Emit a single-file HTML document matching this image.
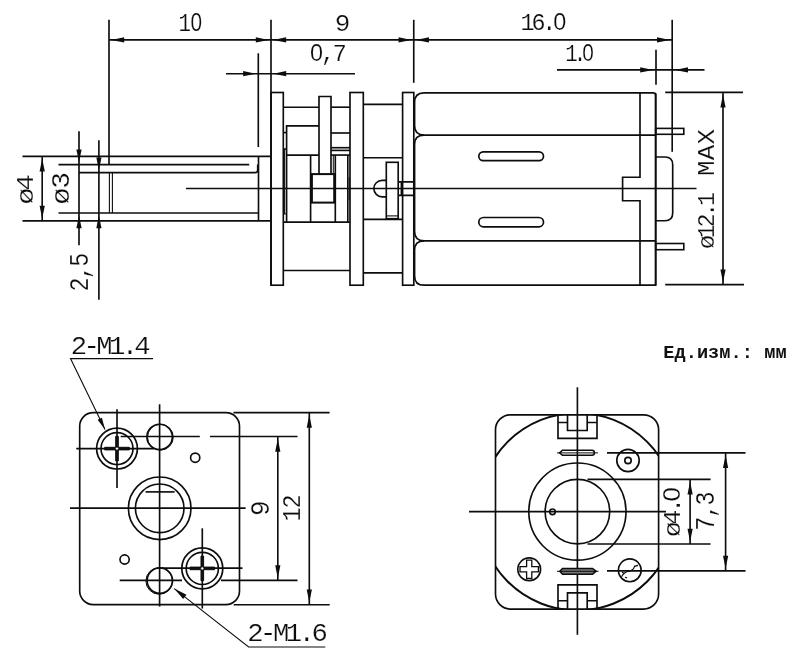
<!DOCTYPE html>
<html lang="ru"><head><meta charset="utf-8"><title>Чертёж мотор-редуктора</title>
<style>
html,body{margin:0;padding:0;background:#fff;}
body{width:800px;height:658px;overflow:hidden;}
svg{display:block;}
</style></head>
<body>
<svg width="800" height="658" viewBox="0 0 800 658">
<rect width="800" height="658" fill="#fff"/>
<g stroke="#0d0d0d" stroke-width="1.65" fill="none" stroke-linecap="butt" transform="translate(0,0.3)">
<line x1="109" y1="19.5" x2="109" y2="164.4"/>
<line x1="271" y1="19.5" x2="271" y2="285"/>
<line x1="413.75" y1="19.5" x2="413.75" y2="82.5"/>
<line x1="672.2" y1="19.5" x2="672.2" y2="151.5"/>
<line x1="109" y1="39.6" x2="672.2" y2="39.6"/>
<polygon points="111.20,39.60 124.20,37.00 124.20,42.20" fill="#0d0d0d" stroke="none"/>
<polygon points="268.80,39.60 255.80,42.20 255.80,37.00" fill="#0d0d0d" stroke="none"/>
<polygon points="273.20,39.60 286.20,37.00 286.20,42.20" fill="#0d0d0d" stroke="none"/>
<polygon points="411.55,39.60 398.55,42.20 398.55,37.00" fill="#0d0d0d" stroke="none"/>
<polygon points="415.95,39.60 428.95,37.00 428.95,42.20" fill="#0d0d0d" stroke="none"/>
<polygon points="670.00,39.60 657.00,42.20 657.00,37.00" fill="#0d0d0d" stroke="none"/>
<line x1="258.3" y1="53" x2="258.3" y2="146.75"/>
<line x1="226" y1="73.4" x2="355" y2="73.4"/>
<polygon points="256.10,73.40 243.10,76.00 243.10,70.80" fill="#0d0d0d" stroke="none"/>
<polygon points="273.20,73.40 286.20,70.80 286.20,76.00" fill="#0d0d0d" stroke="none"/>
<line x1="656" y1="49.4" x2="656" y2="84.4"/>
<line x1="557" y1="69.6" x2="704.5" y2="69.6"/>
<polygon points="653.20,69.60 640.20,72.20 640.20,67.00" fill="#0d0d0d" stroke="none"/>
<polygon points="675.00,69.60 688.00,67.00 688.00,72.20" fill="#0d0d0d" stroke="none"/>
<line x1="22.5" y1="156.1" x2="271" y2="156.1"/>
<line x1="22.5" y1="220.6" x2="271" y2="220.6"/>
<line x1="58.5" y1="164.3" x2="249.2" y2="164.3"/>
<path d="M79,172.3 H255 Q257.7,172.3 257.7,169.6 V164.3" fill="none"/>
<line x1="58.5" y1="212.7" x2="258.5" y2="212.7"/>
<line x1="258.5" y1="156.1" x2="258.5" y2="220.6"/>
<line x1="79" y1="131" x2="79" y2="245"/>
<polygon points="79.00,162.10 76.40,149.10 81.60,149.10" fill="#0d0d0d" stroke="none"/>
<polygon points="79.00,214.90 81.60,227.90 76.40,227.90" fill="#0d0d0d" stroke="none"/>
<line x1="98.9" y1="140" x2="98.9" y2="299.4"/>
<polygon points="98.90,170.10 96.30,157.10 101.50,157.10" fill="#0d0d0d" stroke="none"/>
<polygon points="98.90,214.90 101.50,227.90 96.30,227.90" fill="#0d0d0d" stroke="none"/>
<line x1="109.4" y1="172.3" x2="109.4" y2="212.7" stroke-width="1.1"/>
<line x1="112.4" y1="172.3" x2="112.4" y2="212.7" stroke-width="1.1"/>
<line x1="42.2" y1="156.1" x2="42.2" y2="220.6"/>
<polygon points="42.20,158.30 44.80,171.30 39.60,171.30" fill="#0d0d0d" stroke="none"/>
<polygon points="42.20,218.40 39.60,205.40 44.80,205.40" fill="#0d0d0d" stroke="none"/>
<line x1="186" y1="188.2" x2="696.5" y2="188.2"/>
<rect x="271" y="92.2" width="12.3" height="192.7" fill="none"/>
<rect x="350" y="92.2" width="13.3" height="192.7" fill="none"/>
<rect x="402.6" y="92.2" width="11.2" height="192.7" fill="none"/>
<path d="M319,173.75 V96.2 H331 V173.75" fill="none"/>
<line x1="283.3" y1="106.9" x2="319" y2="106.9"/>
<line x1="331" y1="106.9" x2="350" y2="106.9"/>
<line x1="363.3" y1="104.1" x2="402.6" y2="104.1"/>
<line x1="283.3" y1="270.2" x2="350" y2="270.2"/>
<line x1="363.3" y1="272.5" x2="402.6" y2="272.5"/>
<line x1="283.3" y1="221.8" x2="350" y2="221.8"/>
<line x1="363.3" y1="219" x2="402.6" y2="219"/>
<line x1="363.3" y1="157.4" x2="402.6" y2="157.4"/>
<path d="M286.6,221.8 V125.6 H319" fill="none"/>
<line x1="286.6" y1="154.75" x2="319" y2="154.75"/>
<line x1="283.3" y1="132.25" x2="286.6" y2="132.25"/>
<line x1="283.3" y1="148.75" x2="286.6" y2="148.75"/>
<line x1="284.6" y1="148.75" x2="284.6" y2="213.6" stroke-width="1.1"/>
<line x1="283.3" y1="213.6" x2="286.6" y2="213.6" stroke-width="1.1"/>
<line x1="331" y1="132.7" x2="350" y2="132.7"/>
<line x1="331" y1="147.4" x2="350" y2="147.4"/>
<line x1="331" y1="150.1" x2="350" y2="150.1"/>
<line x1="331" y1="154.75" x2="350" y2="154.75"/>
<line x1="310.6" y1="154.75" x2="310.6" y2="221.8"/>
<line x1="335.3" y1="154.75" x2="335.3" y2="221.8"/>
<line x1="333.3" y1="154.75" x2="333.3" y2="173.75" stroke-width="1.0"/>
<line x1="347.8" y1="154.75" x2="347.8" y2="221.8"/>
<line x1="349.2" y1="177" x2="349.2" y2="200" stroke-width="1.0"/>
<rect x="311.9" y="173.8" width="22.3" height="28.5" fill="none" stroke-width="2.0"/>
<rect x="386.3" y="162" width="11.9" height="56.4" fill="none"/>
<line x1="386.3" y1="215.6" x2="398.2" y2="215.6" stroke-width="1.1"/>
<path d="M386.3,180 H382.1 A8.25,8.25 0 0 0 382.1,196.5 H386.3" fill="none"/>
<path d="M398.2,181.6 H413.8 M398.2,195 H413.8" fill="none"/>
<line x1="401.4" y1="181.6" x2="401.4" y2="195"/>
<path d="M654.5,92.6 H424 Q414.6,92.6 414.6,102 V125.5 Q414.6,134.8 424,134.8 H655.5" fill="none"/>
<path d="M424,134.8 Q414.6,134.8 414.6,144 V231.2 Q414.6,240.5 424,240.5 H655.5" fill="none"/>
<path d="M424,240.5 Q414.6,240.5 414.6,249.8 V275.6 Q414.6,284.9 424,284.9 H656" fill="none"/>
<path d="M654.3,92.6 L655.7,94 V285.4" fill="none" stroke-width="2.1"/>
<path d="M640,92.6 V176.9 H622.6 V200.4 H640 V284.9" fill="none"/>
<path d="M655.7,156.7 H665 Q672.7,156.7 672.7,164.4 V212.7 Q672.7,220.4 665,220.4 H655.7" fill="none"/>
<rect x="655.7" y="128.1" width="28.1" height="5.9" fill="none" stroke-width="1.6"/>
<rect x="655.7" y="243.2" width="28.1" height="6.2" fill="none" stroke-width="1.6"/>
<rect x="478.8" y="151.6" width="64.7" height="8.8" rx="4.4" fill="none" stroke-width="1.7"/>
<rect x="478.8" y="217.2" width="64.7" height="9.3" rx="4.65" fill="none" stroke-width="1.7"/>
<line x1="665.2" y1="92.1" x2="743" y2="92.1"/>
<line x1="665.2" y1="284.4" x2="744" y2="284.4"/>
<line x1="723" y1="92.1" x2="723" y2="284.4"/>
<polygon points="723.00,94.30 725.60,107.30 720.40,107.30" fill="#0d0d0d" stroke="none"/>
<polygon points="723.00,282.20 720.40,269.20 725.60,269.20" fill="#0d0d0d" stroke="none"/>
<rect x="79.7" y="412.4" width="159.8" height="191.9" rx="13.5" fill="none"/>
<circle cx="159.7" cy="508" r="31.3" fill="none"/>
<circle cx="159.7" cy="508" r="24.3" fill="none"/>
<line x1="145.6" y1="491.6" x2="174.6" y2="491.6"/>
<line x1="159.6" y1="404" x2="159.6" y2="606.3"/>
<line x1="70" y1="507.9" x2="245.6" y2="507.9"/>
<circle cx="117" cy="448.3" r="20.4" fill="none" stroke-width="1.7"/>
<circle cx="117" cy="448.3" r="16" fill="none"/>
<line x1="117" y1="409" x2="117" y2="487.8"/>
<line x1="76.25" y1="448.3" x2="154" y2="448.3"/>
<path d="M104.7,447.0 H115.7 V436.0 H118.3 V447.0 H129.3 V449.6 H118.3 V460.6 H115.7 V449.6 H104.7 Z" fill="#111" stroke-width="1.0"/>
<circle cx="117" cy="448.3" r="1.6" fill="#fff" stroke-width="0.8"/>
<circle cx="159.6" cy="436.6" r="12.7" fill="none" stroke-width="1.6"/>
<circle cx="160.4" cy="436.9" r="12.9" fill="none" stroke-width="1.0"/>
<line x1="120.7" y1="436.2" x2="199.8" y2="436.2"/>
<line x1="210" y1="436.2" x2="297.5" y2="436.2"/>
<circle cx="195.2" cy="457.4" r="4.6" fill="none"/>
<circle cx="202.3" cy="568.1" r="20.5" fill="none" stroke-width="1.7"/>
<circle cx="202.3" cy="568.1" r="16.1" fill="none"/>
<line x1="202.3" y1="528" x2="202.3" y2="608.3"/>
<line x1="159.8" y1="567.8" x2="242.5" y2="567.8" stroke-width="1.9"/>
<path d="M190.0,566.8000000000001 H201.0 V555.8000000000001 H203.60000000000002 V566.8000000000001 H214.60000000000002 V569.4 H203.60000000000002 V580.4 H201.0 V569.4 H190.0 Z" fill="#111" stroke-width="1.0"/>
<circle cx="202.3" cy="568.1" r="1.6" fill="#fff" stroke-width="0.8"/>
<circle cx="159.8" cy="580.3" r="12.7" fill="none" stroke-width="1.7"/>
<circle cx="159.2" cy="580.7" r="13.3" fill="none" stroke-width="1.0"/>
<line x1="119.7" y1="580" x2="182" y2="580" stroke-width="1.8"/>
<line x1="221" y1="580.1" x2="297.5" y2="580.1"/>
<circle cx="124.6" cy="559.2" r="4.6" fill="none"/>
<line x1="233.5" y1="412.3" x2="329.6" y2="412.3"/>
<line x1="233.7" y1="604.4" x2="329.7" y2="604.4"/>
<line x1="277.8" y1="436.2" x2="277.8" y2="580.1"/>
<polygon points="277.80,438.40 280.40,451.40 275.20,451.40" fill="#0d0d0d" stroke="none"/>
<polygon points="277.80,577.90 275.20,564.90 280.40,564.90" fill="#0d0d0d" stroke="none"/>
<line x1="309.3" y1="412.3" x2="309.3" y2="604.4"/>
<polygon points="309.30,414.50 311.90,427.50 306.70,427.50" fill="#0d0d0d" stroke="none"/>
<polygon points="309.30,602.20 306.70,589.20 311.90,589.20" fill="#0d0d0d" stroke="none"/>
<path d="M153,358.3 H70.5 L105,429.3" fill="none" stroke-width="1.1"/>
<polygon points="105.00,429.30 97.60,419.56 101.91,417.46" fill="#0d0d0d" stroke="none"/>
<path d="M325.3,646.7 H248.6 L174.2,588.3" fill="none" stroke-width="1.1"/>
<polygon points="174.20,588.30 186.49,594.51 183.15,598.76" fill="#0d0d0d" stroke="none"/>
<rect x="495.5" y="414.5" width="163.1" height="194.3" rx="15" fill="none"/>
<clipPath id="cp"><rect x="495.5" y="414.5" width="163.1" height="194.3" rx="15"/></clipPath>
<circle cx="577.4" cy="511.4" r="98.7" fill="none" stroke-width="2" clip-path="url(#cp)"/>
<circle cx="577.4" cy="511.3" r="48.6" fill="none"/>
<circle cx="577.4" cy="511.3" r="32.3" fill="none"/>
<line x1="577.4" y1="387" x2="577.4" y2="634.5"/>
<line x1="469" y1="511.3" x2="666" y2="511.3"/>
<path d="M558,414.5 V438.1 H597 V414.5 M567.5,414.5 V430.2 H587.2 V414.5 M558,422.2 H567.5 M587.2,422.2 H597" fill="none"/>
<path d="M558,608.8 V584.6 H597 V608.8 M567.5,608.8 V592.6 H587.2 V608.8 M558,600.4 H567.5 M587.2,600.4 H597" fill="none"/>
<path d="M559.6,452.6 L562.5,450 H592 Q594.4,450 594.4,452.5 Q594.4,455 592,455 H562.5 Z" fill="none" stroke-width="1.5"/>
<line x1="557" y1="452.6" x2="598" y2="452.6" stroke-width="1.0"/>
<path d="M559.8,571 L562.5,568.2 H592.5 L596.2,571 L592.5,573.9 H562.5 Z" fill="#777" stroke-width="1.5"/>
<line x1="557" y1="571" x2="598.5" y2="571" stroke-width="1.0"/>
<circle cx="628" cy="460.2" r="11.2" fill="none"/>
<circle cx="628" cy="460.2" r="3.2" fill="none"/>
<circle cx="552.5" cy="511.5" r="2.8" fill="none"/>
<circle cx="529.2" cy="569" r="11.4" fill="none" stroke-width="1.6"/>
<path d="M520.0,566.4 H526.6 V559.8 H531.8000000000001 V566.4 H538.4000000000001 V571.6 H531.8000000000001 V578.2 H526.6 V571.6 H520.0 Z" fill="none" stroke-width="1.3"/>
<circle cx="629.8" cy="570" r="11.4" fill="none" stroke-width="1.6"/>
<path d="M621.5,576.5 Q624,571.5 629,570.8 Q633.5,570 634.5,566 L638,565 M622,572 l2,1 M625,577 l2,0.6" fill="none" stroke-width="1.2"/>
<line x1="607" y1="452.6" x2="745.5" y2="452.6"/>
<line x1="587.5" y1="479" x2="710.6" y2="479"/>
<line x1="587.5" y1="543.7" x2="710.6" y2="543.7"/>
<line x1="607" y1="570.6" x2="745.5" y2="570.6"/>
<line x1="690.1" y1="479" x2="690.1" y2="543.7"/>
<polygon points="690.10,481.20 692.70,494.20 687.50,494.20" fill="#0d0d0d" stroke="none"/>
<polygon points="690.10,541.50 687.50,528.50 692.70,528.50" fill="#0d0d0d" stroke="none"/>
<line x1="725.6" y1="452.6" x2="725.6" y2="570.6"/>
<polygon points="725.60,454.80 728.20,467.80 723.00,467.80" fill="#0d0d0d" stroke="none"/>
<polygon points="725.60,568.40 723.00,555.40 728.20,555.40" fill="#0d0d0d" stroke="none"/>
</g>
<g opacity="0.999">
<text transform="translate(178.47,30.60) scale(0.8,0.964)" font-family="&quot;Liberation Mono&quot;, monospace" font-size="26" letter-spacing="-0.69" fill="#0d0d0d" stroke="#fff" stroke-width="0.2" xml:space="preserve">1<tspan font-family="&quot;Liberation Sans&quot;, sans-serif">0</tspan></text>
<text transform="translate(334.75,30.60) scale(1.0,0.951)" font-family="&quot;Liberation Mono&quot;, monospace" font-size="26" letter-spacing="0" fill="#0d0d0d" stroke="#fff" stroke-width="0.2" xml:space="preserve">9</text>
<text transform="translate(520.50,30.30) scale(0.9,0.900)" font-family="&quot;Liberation Mono&quot;, monospace" font-size="26" letter-spacing="-3.48" fill="#0d0d0d" stroke="#fff" stroke-width="0.2" xml:space="preserve">16.<tspan font-family="&quot;Liberation Sans&quot;, sans-serif">0</tspan></text>
<text transform="translate(310.00,61.30) scale(0.9,0.926)" font-family="&quot;Liberation Mono&quot;, monospace" font-size="26" letter-spacing="-2.36" fill="#0d0d0d" stroke="#fff" stroke-width="0.2" xml:space="preserve"><tspan font-family="&quot;Liberation Sans&quot;, sans-serif">0</tspan>,7</text>
<text transform="translate(565.23,60.80) scale(0.8,0.933)" font-family="&quot;Liberation Mono&quot;, monospace" font-size="26" letter-spacing="-4.97" fill="#0d0d0d" stroke="#fff" stroke-width="0.2" xml:space="preserve">1.<tspan font-family="&quot;Liberation Sans&quot;, sans-serif">0</tspan></text>
<text transform="translate(32.50,204.55) rotate(-90) scale(1.08,0.945)" font-family="&quot;Liberation Mono&quot;, monospace" font-size="26" letter-spacing="-3.1" fill="#0d0d0d" stroke="#fff" stroke-width="0.2" xml:space="preserve">ø4</text>
<text transform="translate(69.40,204.53) rotate(-90) scale(1.08,0.966)" font-family="&quot;Liberation Mono&quot;, monospace" font-size="26" letter-spacing="-0.97" fill="#0d0d0d" stroke="#fff" stroke-width="0.2" xml:space="preserve">ø3</text>
<text transform="translate(87.50,291.60) rotate(-90) scale(0.9,1.086)" font-family="&quot;Liberation Mono&quot;, monospace" font-size="26" letter-spacing="-1.86" fill="#0d0d0d" stroke="#fff" stroke-width="0.2" xml:space="preserve">2,5</text>
<text transform="translate(714.20,248.97) rotate(-90) scale(0.9,0.937)" font-family="&quot;Liberation Mono&quot;, monospace" font-size="26" letter-spacing="-3.63" fill="#0d0d0d" stroke="#fff" stroke-width="0.2" xml:space="preserve">ø12.1</text>
<text transform="translate(714.20,176.07) rotate(-90) scale(1.0,0.951)" font-family="&quot;Liberation Mono&quot;, monospace" font-size="26" letter-spacing="0.2" fill="#0d0d0d" stroke="#fff" stroke-width="0.2" xml:space="preserve">MAX</text>
<text transform="translate(70.85,354.20) scale(1.05,0.960)" font-family="&quot;Liberation Mono&quot;, monospace" font-size="26" letter-spacing="-3.5" fill="#0d0d0d" stroke="#fff" stroke-width="0.2" xml:space="preserve">2-M1.4</text>
<text transform="translate(247.22,641.00) scale(1.05,0.960)" font-family="&quot;Liberation Mono&quot;, monospace" font-size="26" letter-spacing="-3.37" fill="#0d0d0d" stroke="#fff" stroke-width="0.2" xml:space="preserve">2-M1.6</text>
<text transform="translate(269.00,515.90) rotate(-90) scale(1.0,1.043)" font-family="&quot;Liberation Mono&quot;, monospace" font-size="26" letter-spacing="0" fill="#0d0d0d" stroke="#fff" stroke-width="0.2" xml:space="preserve">9</text>
<text transform="translate(300.00,521.50) rotate(-90) scale(0.9,1.000)" font-family="&quot;Liberation Mono&quot;, monospace" font-size="26" letter-spacing="-1.28" fill="#0d0d0d" stroke="#fff" stroke-width="0.2" xml:space="preserve">12</text>
<text transform="translate(680.00,537.05) rotate(-90) scale(1.0,0.932)" font-family="&quot;Liberation Mono&quot;, monospace" font-size="26" letter-spacing="-3.72" fill="#0d0d0d" stroke="#fff" stroke-width="0.2" xml:space="preserve">ø4.<tspan font-family="&quot;Liberation Sans&quot;, sans-serif">0</tspan></text>
<text transform="translate(714.00,530.65) rotate(-90) scale(0.9,1.029)" font-family="&quot;Liberation Mono&quot;, monospace" font-size="26" letter-spacing="-1.64" fill="#0d0d0d" stroke="#fff" stroke-width="0.2" xml:space="preserve">7,3</text>
<text x="663.2" y="358.4" font-family="&quot;Liberation Mono&quot;, monospace" font-size="18.67" font-weight="bold" fill="#111" textLength="123.5" lengthAdjust="spacing" xml:space="preserve">Ед.изм.: мм</text>
</g>
</svg>
</body></html>
